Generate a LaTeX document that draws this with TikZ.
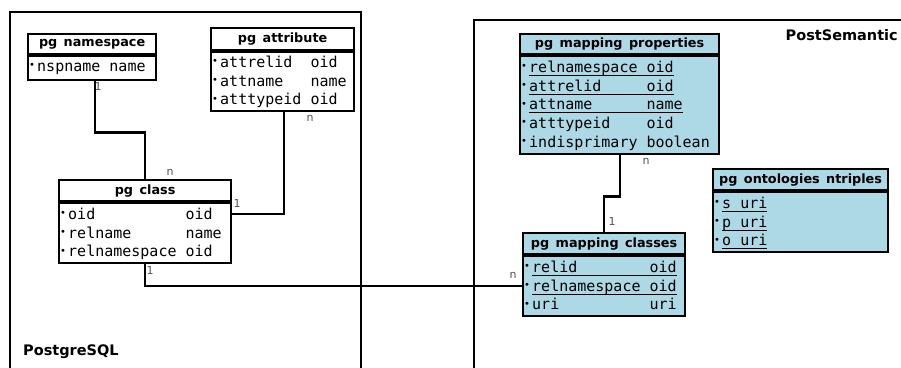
\documentclass[tikz,border=0pt]{standalone}
\usepackage{fontspec}
\setmainfont{DejaVu Sans}
\setmonofont{DejaVu Sans Mono}
\definecolor{tblblue}{HTML}{ADD8E6}
\definecolor{cardgray}{HTML}{505050}

% wide gap used in table titles
\newcommand\gap{\hspace{0.5em}}
% row marker
\newcommand\bul{\makebox[8pt][l]{\raisebox{2.8pt}{\fontsize{10}{10}\selectfont\rmfamily •}}}
% fixed first-line height so rows sit at a known offset
\newcommand\fr{\rule{0pt}{13pt}}
% key column underline
\newcommand\keyrow[1]{\setbox0\hbox{#1}\rlap{\rule[-3.4pt]{\wd0}{1pt}}\box0}

\tikzset{
  frame/.style={line width=2.2pt},
  hdr/.style={draw, line width=2.2pt, minimum height=21pt, inner sep=0pt,
    font=\fontsize{12.8}{12.8}\selectfont\bfseries, anchor=north west},
  bodybox/.style={draw, line width=2.2pt, inner sep=0pt, anchor=north},
  rows/.style={align=left, inner sep=0pt, anchor=north west,
    font=\fontsize{15}{18.7}\selectfont\ttfamily},
  blue/.style={fill=tblblue},
  conn/.style={line width=2.2pt},
  card/.style={font=\fontsize{11}{11}\selectfont, text=cardgray, inner sep=0pt},
  title/.style={font=\fontsize{14.5}{14.5}\selectfont\bfseries, inner sep=0pt}
}

\begin{document}
\begin{tikzpicture}[x=1pt,y=-1pt]
\useasboundingbox (0,0) rectangle (901,367);

% schema containers
\draw[frame] (10,370) -- (10,12) -- (361,12) -- (361,370);
\draw[frame] (904,20) -- (474,20) -- (474,370);
\node[title, anchor=west] (lblpg) at (23,352) {PostgreSQL};
\node[title, anchor=east] (lblps) at (898,35) {PostSemantic};

% pg namespace
\node[hdr, minimum width=128pt, minimum height=20pt] (ns) at (27,33) {pg\gap namespace};
\node[bodybox, minimum width=128pt, minimum height=24pt] (nsb) at (ns.south) {};
\node[rows] (nsr) at ([xshift=2pt,yshift=-3pt]nsb.north west) {\fr\bul nspname name};

% pg attribute
\node[hdr, minimum width=143pt, minimum height=22pt] (att) at (210,27) {pg\gap attribute};
\node[bodybox, minimum width=143pt, minimum height=59pt] (attb) at (att.south) {};
\node[rows] (attr) at ([xshift=2pt,yshift=-3pt]attb.north west)
  {\fr\bul attrelid~~oid\\\bul attname~~~name\\\bul atttypeid~oid};

% pg class
\node[hdr, minimum width=172pt, minimum height=21pt] (cls) at (58,179) {pg\gap class};
\node[bodybox, minimum width=172pt, minimum height=60pt] (clsb) at (cls.south) {};
\node[rows] (clsr) at ([xshift=2pt,yshift=-4pt]clsb.north west)
  {\fr\bul oid~~~~~~~~~~oid\\\bul relname~~~~~~name\\\bul relnamespace~oid};

% pg mapping properties
\node[hdr, blue, minimum width=199pt, minimum height=20pt] (mp) at (519,33) {pg\gap mapping\gap properties};
\node[bodybox, blue, minimum width=199pt, minimum height=98pt] (mpb) at (mp.south) {};
\node[rows] (mpr) at ([xshift=2pt,yshift=-4pt]mpb.north west)
  {\fr\bul\keyrow{relnamespace~oid}\\\bul\keyrow{attrelid~~~~~oid}\\\bul\keyrow{attname~~~~~~name}\\
   \bul atttypeid~~~~oid\\\bul indisprimary~boolean};

% pg mapping classes
\node[hdr, blue, minimum width=162pt, minimum height=21pt] (mc) at (522,232) {pg\gap mapping\gap classes};
\node[bodybox, blue, minimum width=162pt, minimum height=60pt] (mcb) at (mc.south) {};
\node[rows] (mcr) at ([xshift=2pt,yshift=-4pt]mcb.north west)
  {\fr\bul\keyrow{relid~~~~~~~~oid}\\\bul\keyrow{relnamespace~oid}\\\bul uri~~~~~~~~~~uri};

% pg ontologies ntriples
\node[hdr, blue, minimum width=175pt, minimum height=21pt] (ont) at (712,168) {pg\gap ontologies\gap ntriples};
\node[bodybox, blue, minimum width=175pt, minimum height=60pt] (ontb) at (ont.south) {};
\node[rows] (ontr) at ([xshift=2pt,yshift=-4pt]ontb.north west)
  {\fr\bul\keyrow{s~uri}\\\bul\keyrow{p~uri}\\\bul\keyrow{o~uri}};

% relationships
\draw[conn] ([xshift=3pt]nsb.south) -- ++(0,51) -| (cls.north);
\draw[conn] ([xshift=1.5pt]attb.south) |- ([yshift=19pt]clsb.east);
\draw[conn] (clsb.south) |- (mcb.west);
\draw[conn] (mpb.south) -- ++(0,41) -| (mc.north);

% cardinalities
\node[card] (c1) at (98,86) {1};
\node[card] (c2) at (170,172) {n};
\node[card] (c3) at (310,118) {n};
\node[card] (c4) at (237,203) {1};
\node[card] (c5) at (150,270) {1};
\node[card] (c6) at (513,275) {n};
\node[card] (c7) at (646,161) {n};
\node[card] (c8) at (612,221) {1};
\end{tikzpicture}
\end{document}
